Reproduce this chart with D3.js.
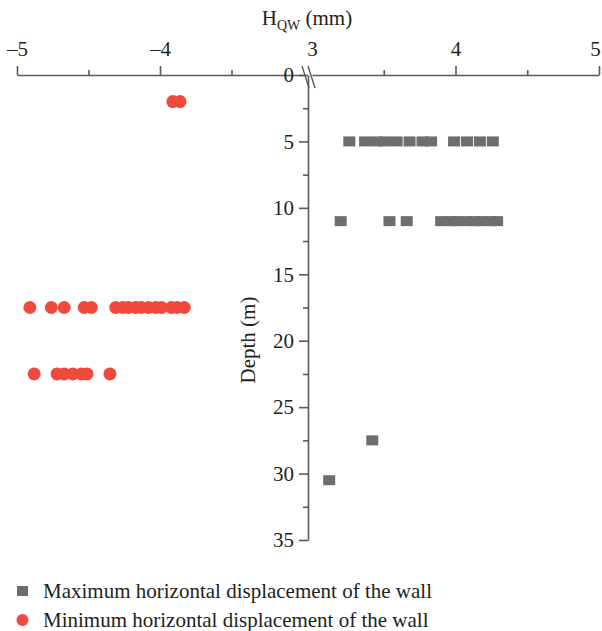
<!DOCTYPE html>
<html>
<head>
<meta charset="utf-8">
<script src="https://cdn.jsdelivr.net/npm/d3@7"></script>
<style>
  html, body { margin: 0; padding: 0; background: #fff; }
  svg text { font-family: "Liberation Serif", "DejaVu Serif", serif; fill: #231f20; }
</style>
</head>
<body>
<svg id="chart" width="602" height="631"></svg>
<script>
// ---- data ----
const leftTicks = [-5, -4];
const leftMinorTicks = [-4.5, -3.5];
const rightTicks = [3, 4, 5];
const rightMinorTicks = [3.5, 4.5];
const depthTicks = [0, 5, 10, 15, 20, 25, 30, 35];
const depthMinorTicks = [2.5, 7.5, 12.5, 17.5, 22.5, 27.5, 32.5];

// Maximum horizontal displacement (mm) by depth (m)
const maxDepths = [5, 11, 27.5, 30.5];
const maxValues = [
  [3.26, 3.37, 3.45, 3.51, 3.59, 3.68, 3.77, 3.83, 3.99, 4.08, 4.17, 4.26],
  [3.20, 3.54, 3.66, 3.90, 3.96, 4.01, 4.07, 4.13, 4.18, 4.24, 4.29],
  [3.42],
  [3.12]
];
// Minimum horizontal displacement (mm) by depth (m)
const minDepths = [2, 17.5, 22.5];
const minValues = [
  [-3.91, -3.86],
  [-4.91, -4.76, -4.67, -4.53, -4.48, -4.31, -4.26, -4.22, -4.17, -4.13, -4.08, -4.03, -3.99, -3.92, -3.88, -3.83],
  [-4.88, -4.72, -4.67, -4.61, -4.55, -4.51, -4.35]
];
const legendLabels = ["Maximum horizontal displacement of the wall", "Minimum horizontal displacement of the wall"];

// ---- chart ----
const svg = d3.select("#chart");
const axisColor = "#58595b";
const greyColor = "#6d6e71";
const redColor = "#ef4a3d";
const fs = 21;

const xLeft = d3.scaleLinear().domain([-5, -3]).range([17, 303]);
const xRight = d3.scaleLinear().domain([3, 5]).range([312, 599]);
const y = d3.scaleLinear().domain([0, 35]).range([75, 540]);
const axisX = 308;

function styleAxis(g) {
  g.selectAll("path, line").attr("stroke", axisColor).attr("stroke-width", 1.6);
  g.selectAll("text").attr("font-size", fs).attr("fill", "#231f20")
    .style("font-family", '"Liberation Serif", serif');
}

const fmt = d => d < 0 ? "\u2013" + Math.abs(d) : String(d);

// top axes
const gl = svg.append("g").attr("transform", `translate(0,${y(0)})`)
  .call(d3.axisTop(xLeft).tickValues(leftTicks).tickSize(9).tickSizeOuter(0).tickPadding(10).tickFormat(fmt));
styleAxis(gl);
svg.append("g").attr("transform", `translate(0,${y(0)})`)
  .call(d3.axisTop(xLeft).tickValues(leftMinorTicks).tickSize(5).tickFormat(""))
  .call(g => g.select(".domain").remove()).call(styleAxis);

const gr = svg.append("g").attr("transform", `translate(0,${y(0)})`)
  .call(d3.axisTop(xRight).tickValues(rightTicks).tickSize(9).tickSizeOuter(0).tickPadding(10).tickFormat(fmt));
styleAxis(gr);
gr.selectAll(".tick").filter(d => d === 3).select("line").remove();
gr.selectAll(".tick").filter(d => d === 5).select("text").attr("dx", -4);
svg.append("g").attr("transform", `translate(0,${y(0)})`)
  .call(d3.axisTop(xRight).tickValues(rightMinorTicks).tickSize(5).tickFormat(""))
  .call(g => g.select(".domain").remove()).call(styleAxis);

// y axis
const gy = svg.append("g").attr("transform", `translate(${axisX},0)`)
  .call(d3.axisLeft(y).tickValues(depthTicks).tickSize(9).tickSizeOuter(0).tickPadding(5));
styleAxis(gy);
svg.append("g").attr("transform", `translate(${axisX},0)`)
  .call(d3.axisLeft(y).tickValues(depthMinorTicks).tickSize(5).tickFormat(""))
  .call(g => g.select(".domain").remove()).call(styleAxis);

// break marks
const bk = svg.append("g").attr("stroke", axisColor).attr("stroke-width", 1.4);
bk.append("line").attr("x1", 302).attr("y1", 66).attr("x2", 309).attr("y2", 88);
bk.append("line").attr("x1", 308).attr("y1", 66).attr("x2", 315).attr("y2", 88);

// titles
const t = svg.append("text").attr("x", 307).attr("y", 25).attr("text-anchor", "middle").attr("font-size", fs);
t.append("tspan").text("H");
t.append("tspan").attr("font-size", 14).attr("dy", 5).text("QW");
t.append("tspan").attr("dy", -5).text(" (mm)");

svg.append("text").attr("transform", `translate(255,340) rotate(-90)`)
  .attr("text-anchor", "middle").attr("font-size", fs).text("Depth (m)");

// data marks
const sqW = 12, sqH = 10, r = 6.5;
const maxPts = maxDepths.flatMap((d, i) => maxValues[i].map(v => ({ d, v })));
const minPts = minDepths.flatMap((d, i) => minValues[i].map(v => ({ d, v })));

svg.append("g").selectAll("rect").data(maxPts).join("rect")
  .attr("x", p => xRight(p.v) - sqW / 2).attr("y", p => y(p.d) - sqH / 2)
  .attr("width", sqW).attr("height", sqH).attr("fill", greyColor);

svg.append("g").selectAll("circle").data(minPts).join("circle")
  .attr("cx", p => xLeft(p.v)).attr("cy", p => y(p.d)).attr("r", r).attr("fill", redColor);

// legend
const lg = svg.append("g");
lg.append("rect").attr("x", 17).attr("y", 586).attr("width", 11).attr("height", 10).attr("fill", greyColor);
lg.append("circle").attr("cx", 22.5).attr("cy", 620).attr("r", 6).attr("fill", redColor);
lg.selectAll("text.leg").data(legendLabels).join("text").attr("class", "leg")
  .attr("x", 43).attr("y", (d, i) => 598 + i * 29).attr("font-size", 21).text(d => d);
</script>
</body>
</html>
